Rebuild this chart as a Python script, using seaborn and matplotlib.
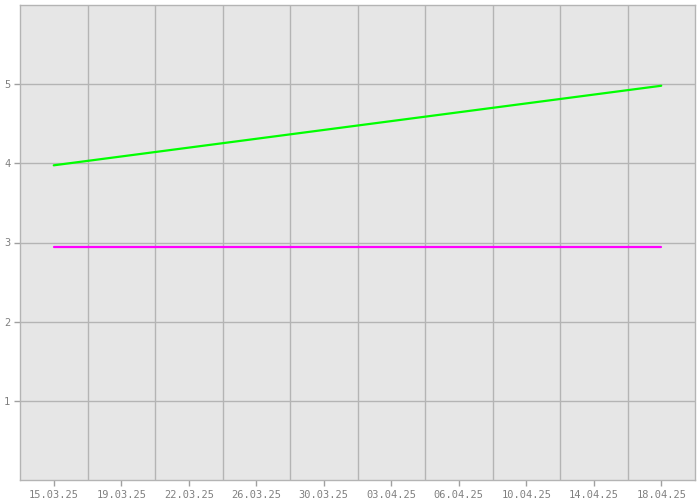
import numpy as np
import matplotlib
matplotlib.use('Agg')
import matplotlib.pyplot as plt
import seaborn as sns
import pandas as pd

#  chart values
dates = ['15.03.25', '18.04.25']
green_values = [3.975, 4.98]
magenta_values = [2.945, 2.945]
tick_labels = ['15.03.25', '19.03.25', '22.03.25', '26.03.25', '30.03.25',
               '03.04.25', '06.04.25', '10.04.25', '14.04.25', '18.04.25']

#  days since first date, ticks are evenly spaced across the span
day_pos = [0, 34]
df = pd.DataFrame({'day': day_pos * 2,
                   'value': green_values + magenta_values,
                   'series': ['green'] * 2 + ['magenta'] * 2})

sns.set_theme(style='white')
plt.rcParams['font.family'] = ['DejaVu Sans Mono', 'DejaVu Sans']

fig = plt.figure(figsize=(7, 5), dpi=100)
ax = fig.add_axes([20 / 700, 20 / 500, 675 / 700, 475 / 500])
ax.set_facecolor('#e6e6e6')

sns.lineplot(data=df, x='day', y='value', hue='series',
             palette={'green': '#00ff00', 'magenta': '#ff00ff'},
             linewidth=1.6, legend=False, ax=ax)

step = 34 / 9
major = np.arange(10) * step
ax.set_xlim(-step / 2, 34 + step / 2)
ax.set_ylim(0, 6)
ax.set_xticks(major)
ax.set_xticklabels(tick_labels)
ax.set_xticks(major[:-1] + step / 2, minor=True)
ax.set_yticks([1, 2, 3, 4, 5])

ax.grid(False)
ax.grid(True, which='minor', axis='x', color='#b4b4b4', linewidth=1)
ax.grid(True, which='major', axis='y', color='#b4b4b4', linewidth=1)
ax.set_axisbelow(True)

ax.tick_params(axis='both', which='major', direction='out', length=4,
               width=1, color='#a0a0a0', labelcolor='#808080', labelsize=7.5,
               bottom=True, left=True, pad=3)
ax.tick_params(axis='x', which='minor', length=0)
ax.set_xlabel('')
ax.set_ylabel('')

for s in ax.spines.values():
    s.set_color('#b4b4b4')
    s.set_linewidth(1)

fig.savefig('out.png', dpi=100)
